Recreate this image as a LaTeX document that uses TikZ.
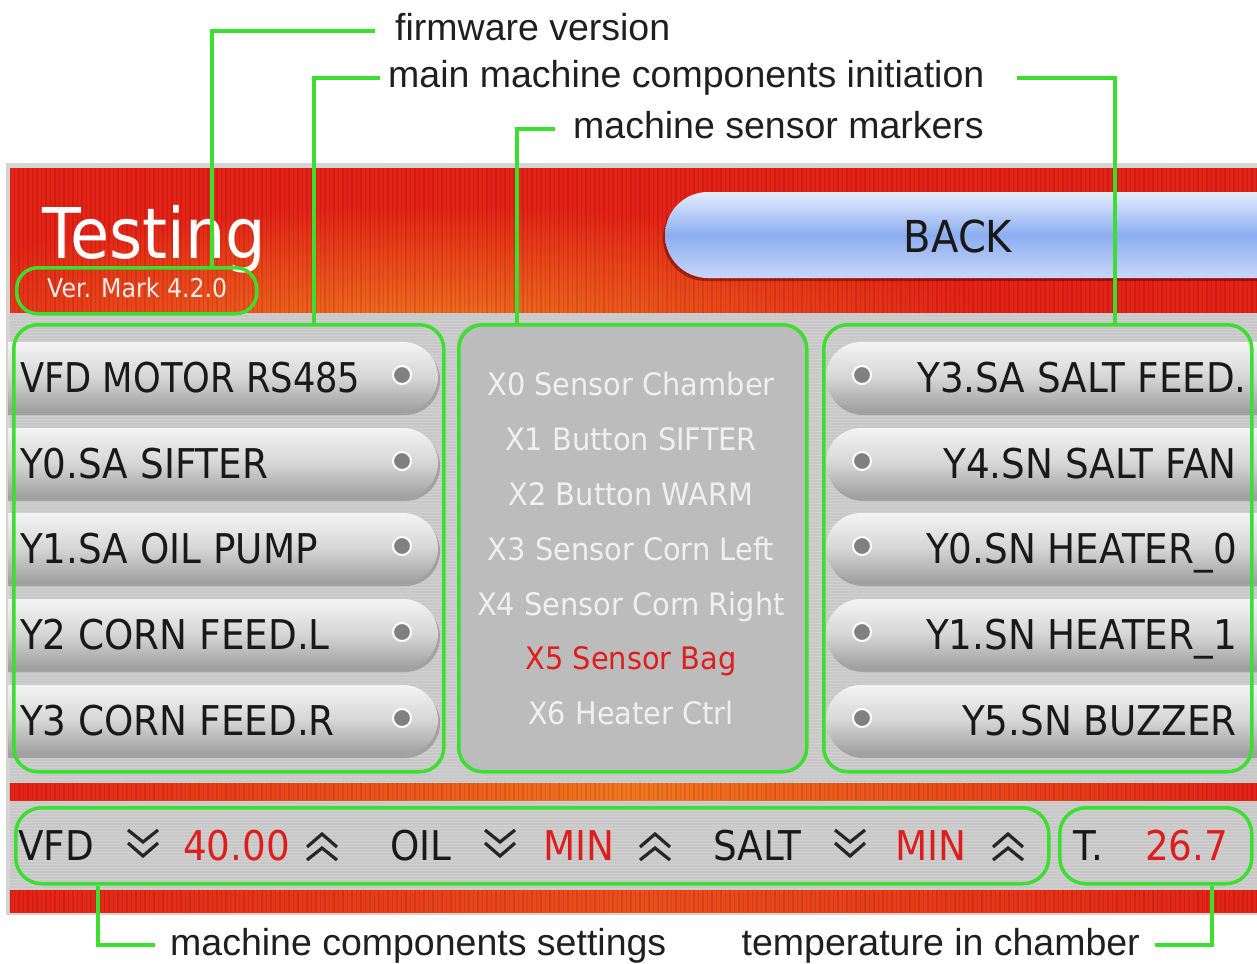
\documentclass[tikz,border=0pt]{standalone}
\usepackage{fontspec}
\newfontfamily\labfont{Liberation Sans}
\newfontfamily\scrfont[FakeStretch=0.91]{DejaVu Sans}
\newfontfamily\scrnarrow[FakeStretch=0.86]{DejaVu Sans}
\newfontfamily\sensfont[FakeStretch=0.93]{DejaVu Sans}
\definecolor{gr}{RGB}{60,222,48}
\definecolor{hred}{RGB}{228,34,22}
\definecolor{horange}{RGB}{242,118,30}
\definecolor{framegrey}{RGB}{212,212,212}
\definecolor{scrgrey}{RGB}{200,200,200}
\definecolor{panelgrey}{RGB}{188,188,188}
\definecolor{txtred}{RGB}{222,30,28}
\definecolor{sens}{RGB}{240,240,240}
\definecolor{pilltop}{RGB}{244,244,244}
\definecolor{pillmid}{RGB}{214,214,214}
\definecolor{pillbot}{RGB}{158,158,158}
\definecolor{dotgrey}{RGB}{128,128,128}
\definecolor{btop}{RGB}{228,236,252}
\definecolor{bmid}{RGB}{140,174,240}
\definecolor{bbot}{RGB}{200,214,250}
\tikzset{
  lead/.style={draw=gr, line width=3.5pt},
  gbox/.style={draw=gr, line width=3.5pt, inner sep=0pt, anchor=north west},
  labtxt/.style={font={\labfont\fontsize{37.5}{40}\selectfont}, inner ysep=0pt, text height=27pt, text depth=7pt, text=black!88},
  btxt/.style={font={\scrfont\fontsize{41}{44}\selectfont}, inner sep=0pt, text=black!90},
  stxt/.style={font={\sensfont\fontsize{31}{34}\selectfont}, inner sep=0pt, text=sens, anchor=base},
  pill/.style={top color=pilltop, bottom color=pillbot, middle color=pillmid},
  pillshadow/.style={fill=black!50, opacity=.55},
  chev/.style={draw=black!85, line width=3.2pt, line join=miter},
  chvdn/.pic={\draw[chev] (-15,-15)--(0,-3)--(15,-15) (-15,-2)--(0,11)--(15,-2);},
  chvup/.pic={\draw[chev] (-15,15)--(0,3)--(15,15) (-15,2)--(0,-11)--(15,2);}
}
\begin{document}
\begin{tikzpicture}[x=1pt,y=-1pt]
\useasboundingbox (0,0) rectangle (1257,963);
\fill[white] (0,0) rectangle (1257,963);
% screen frame
\fill[framegrey] (6,163) rectangle (1257,915);
% header band
\begin{scope}
  \clip (10,168) rectangle (1257,313);
  \fill[hred] (10,168) rectangle (1257,313);
  \shade[inner color=horange, outer color=hred] (430,330) ellipse (560 and 125);
  \foreach \x in {10,14.5,...,1257} \draw[black, opacity=.10, line width=1.5pt] (\x,168) -- (\x,313);
\end{scope}
% grey body
\fill[scrgrey] (10,313) rectangle (1257,783);
\fill[scrgrey] (10,800) rectangle (1257,890);
\foreach \y in {314,317,...,782} \draw[white, opacity=.16, line width=.8pt] (10,\y) -- (1257,\y);
\foreach \y in {801,804,...,889} \draw[white, opacity=.16, line width=.8pt] (10,\y) -- (1257,\y);
% red strips
\shade[left color=hred, right color=hred, middle color=horange] (10,783) rectangle (1257,800);
\shade[left color=hred, right color=hred, middle color=horange!55!hred] (10,890) rectangle (1257,912);
\foreach \x in {10,14.5,...,1257} {
  \draw[black, opacity=.10, line width=1.5pt] (\x,783) -- (\x,800);
  \draw[black, opacity=.10, line width=1.5pt] (\x,890) -- (\x,912);
}
% center panel background
\fill[panelgrey, rounded corners=22pt] (457,323) rectangle (805,770);

% BACK button
\fill[black!70!red, opacity=.45] (1260,195) -- (706,195) arc(-90:-270:43) -- (1260,281) -- cycle;
\shade[top color=btop, bottom color=bbot, middle color=bmid] (1260,192) -- (708,192) arc(-90:-270:43) -- (1260,278) -- cycle;
\node[font={\scrfont\fontsize{44}{48}\selectfont}, inner sep=0pt, text=black!90, anchor=base] (back) at (958,252) {BACK};

% title
\node[font={\scrfont\fontsize{70}{74}\selectfont}, inner sep=0pt, text=white, anchor=base west] (title) at (42,258) {Testing};
\node[font={\scrfont\fontsize{26}{28}\selectfont}, inner sep=0pt, text=white!92!black, anchor=base west] (ver) at (47,297) {Ver. Mark 4.2.0};

% left buttons
\foreach \c/\t [count=\i] in {377/{\scrnarrow VFD MOTOR RS485}, 463/Y0.SA SIFTER, 548/Y1.SA OIL PUMP, 634/Y2 CORN FEED.L, 720/Y3 CORN FEED.R}{
  \fill[pillshadow] (8,\c-32) -- (405,\c-32) arc(-90:90:35) -- (8,\c+38) -- cycle;
  \shade[pill] (8,\c-35) -- (403,\c-35) arc(-90:90:35) -- (8,\c+35) -- cycle;
  \filldraw[fill=dotgrey, draw=white, line width=2pt] (402,\c-2) circle (9);
  \node[btxt, anchor=base west] (lb\i) at (20,\c+15) {\t};
}
% right buttons
\foreach \c [count=\i] in {377,463,548,634,720}{
  \fill[pillshadow] (1260,\c-32) -- (863,\c-32) arc(-90:-270:35) -- (1260,\c+38) -- cycle;
  \shade[pill] (1260,\c-35) -- (861,\c-35) arc(-90:-270:35) -- (1260,\c+35) -- cycle;
  \filldraw[fill=dotgrey, draw=white, line width=2pt] (862,\c-2) circle (9);
}
\node[btxt, anchor=base west] (rb1) at (917,392) {Y3.SA SALT FEED.};
\node[btxt, anchor=base east] (rb2) at (1237,478) {Y4.SN SALT FAN};
\node[btxt, anchor=base east] (rb3) at (1237,563) {Y0.SN HEATER\_0};
\node[btxt, anchor=base east] (rb4) at (1237,649) {Y1.SN HEATER\_1};
\node[btxt, anchor=base east] (rb5) at (1237,735) {Y5.SN BUZZER};

% sensor texts
\node[stxt] (s0) at (631,395) {X0 Sensor Chamber};
\node[stxt] (s1) at (631,450) {X1 Button SIFTER};
\node[stxt] (s2) at (631,505) {X2 Button WARM};
\node[stxt] (s3) at (631,560) {X3 Sensor Corn Left};
\node[stxt] (s4) at (631,615) {X4 Sensor Corn Right};
\node[stxt, text=txtred] (s5) at (631,669) {X5 Sensor Bag};
\node[stxt] (s6) at (631,724) {X6 Heater Ctrl};

% bottom bar
\node[btxt, anchor=base west] (vfd) at (18,860) {VFD};
\pic at (143,845) {chvdn};
\node[btxt, anchor=base west, text=txtred] (vfdv) at (183,860) {40.00};
\pic at (322,845) {chvup};
\node[btxt, anchor=base west] (oil) at (390,860) {OIL};
\pic at (500,845) {chvdn};
\node[btxt, anchor=base west, text=txtred] (oilv) at (543,860) {MIN};
\pic at (655,845) {chvup};
\node[btxt, anchor=base west] (salt) at (713,860) {SALT};
\pic at (850,845) {chvdn};
\node[btxt, anchor=base west, text=txtred] (saltv) at (895,860) {MIN};
\pic at (1008,845) {chvup};
\node[btxt, anchor=base west] (tt) at (1073,860) {T.};
\node[btxt, anchor=base west, text=txtred] (ttv) at (1145,860) {26.7};

% green boxes
\node[gbox, minimum width=240pt, minimum height=46pt, rounded corners=21pt] (fwbox) at (15,266) {};
\node[gbox, minimum width=430pt, minimum height=447pt, rounded corners=24pt] (lpanel) at (12,323) {};
\node[gbox, minimum width=348pt, minimum height=447pt, rounded corners=24pt] (cpanel) at (457,323) {};
\node[gbox, minimum width=428pt, minimum height=447pt, rounded corners=24pt] (rpanel) at (822,323) {};
\node[gbox, minimum width=1033pt, minimum height=76pt, rounded corners=26pt] (setbox) at (14,806) {};
\node[gbox, minimum width=192pt, minimum height=76pt, rounded corners=26pt] (tempbox) at (1058,806) {};

% labels
\node[labtxt, inner xsep=20pt, anchor=base west] (fwlab) at (375,41) {firmware version};
\node[labtxt, inner xsep=8pt, anchor=base west] (mainlab) at (380,88) {main machine components initiation};
\node[labtxt, inner xsep=18pt, anchor=base west] (senslab) at (555,139) {machine sensor markers};
\node[labtxt, inner xsep=15pt, anchor=base west] (setlab) at (155,955) {machine components settings};
\node[labtxt, inner xsep=15pt, anchor=base east] (templab) at (1155,955) {temperature in chamber};

% leader x positions
\coordinate (fwx) at (212,0);
\coordinate (lx) at (314,0);
\coordinate (rx) at (1115,0);
\coordinate (sx) at (517,0);
\coordinate (bx) at (98,0);
\coordinate (tx) at (1212,0);

\draw[lead] (fwlab.west) -| (fwx |- fwbox.north);
\draw[lead] (mainlab.west) -| (lx |- lpanel.north);
\draw[lead] ([xshift=24pt]mainlab.east) -| (rx |- rpanel.north);
\draw[lead] (senslab.west) -| (sx |- cpanel.north);
\draw[lead] (bx |- setbox.south) |- (setlab.west);
\draw[lead] (templab.east) -| (tx |- tempbox.south);
\end{tikzpicture}
\end{document}
